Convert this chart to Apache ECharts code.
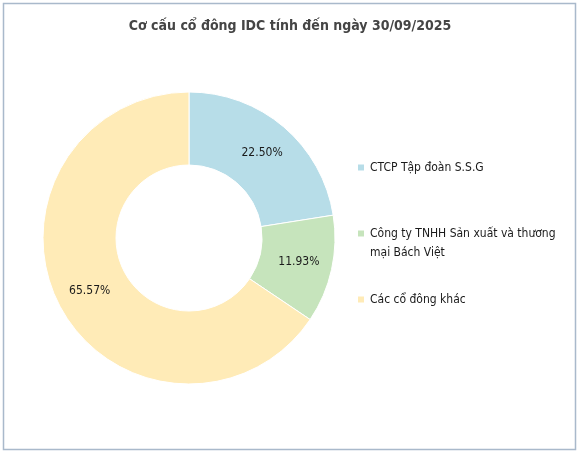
<!DOCTYPE html>
<html>
<head>
<meta charset="utf-8">
<script src="https://cdn.jsdelivr.net/npm/echarts@6/dist/echarts.min.js"></script>
<style>
  html, body { margin: 0; padding: 0; background: #fff; }
  #chart { width: 580px; height: 455px; }
</style>
</head>
<body>
<div id="chart"></div>
<script>
// dữ liệu
const titleText = "Cơ cấu cổ đông IDC tính đến ngày 30/09/2025";
const names = ["CTCP Tập đoàn S.S.G", "Công ty TNHH Sản xuất và thương mại Bách Việt", "Các cổ đông khác"];
const values = [22.50, 11.93, 65.57];
const colors = ["#b7dde8", "#c6e4bc", "#ffebb7"];
// nhãn chú thích xuống dòng
const legendLabels = ["CTCP Tập đoàn S.S.G", "\nCông ty TNHH Sản xuất và thương\nmại Bách Việt", "Các cổ đông khác"];

const font = "DejaVu Sans Condensed";

const myChart = echarts.init(document.querySelector("#chart"));
const option = {
  animation: false,
  title: {
    text: titleText,
    left: "center",
    top: 14,
    textStyle: {
      fontFamily: font,
      fontSize: 14,
      fontWeight: "bold",
      color: "#454545",
    },
  },
  legend: {
    orient: "vertical",
    left: 351,
    top: 153,
    itemWidth: 8,
    itemHeight: 8,
    itemGap: 28,
    icon: "rect",
    data: names,
    formatter: (name) => legendLabels[names.indexOf(name)],
    textStyle: {
      fontFamily: font,
      fontSize: 12,
      lineHeight: 19,
      color: "#1a1a1a",
    },
  },
  graphic: [
    {
      type: "rect",
      shape: { x: 3.5, y: 3.5, width: 572, height: 446 },
      style: { fill: "none", stroke: "#a9b9cb", lineWidth: 1.5 },
      silent: true,
    },
  ],
  series: [
    {
      type: "pie",
      center: [189, 238],
      radius: [73, 146],
      startAngle: 90,
      clockwise: true,
      data: names.map((n, i) => ({
        name: n,
        value: values[i],
        itemStyle: { color: colors[i] },
      })),
      itemStyle: { borderColor: "#fff", borderWidth: 1 },
      label: {
        show: true,
        position: "inside",
        formatter: (p) => p.value.toFixed(2) + "%",
        fontFamily: font,
        fontSize: 12,
        color: "#1a1a1a",
      },
      labelLine: { show: false },
      emphasis: { disabled: true },
    },
  ],
};
myChart.setOption(option);
</script>
</body>
</html>
